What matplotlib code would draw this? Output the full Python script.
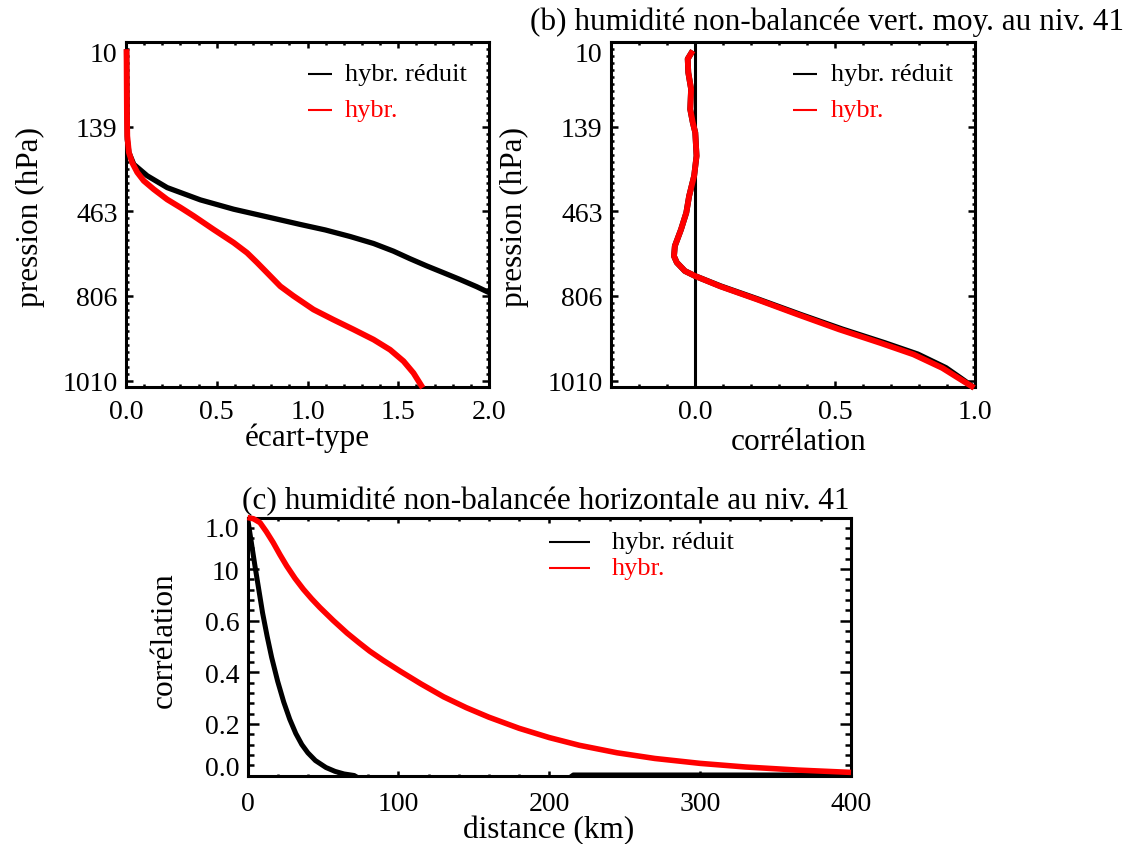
import matplotlib
matplotlib.use('Agg')
import matplotlib.pyplot as plt
from matplotlib.ticker import MultipleLocator

plt.rcParams['font.family'] = ['Liberation Serif', 'DejaVu Serif']
plt.rcParams['lines.solid_joinstyle'] = 'round'
plt.rcParams['lines.solid_capstyle'] = 'butt'

W, H = 1134, 845

# axe vertical : index de niveau, étiqueté en pression (hPa)
niv_ticks = [0, 20, 40, 60, 80]
niv_labels = ['10', '139', '463', '806', '1010']

# (a) écart-type
a_noir_x = [0.003, 0.007, 0.016, 0.043, 0.117, 0.227, 0.41, 0.593, 0.777, 0.96, 1.098, 1.235,
            1.364, 1.473, 1.565, 1.657, 1.749, 1.84, 1.932, 2.0]
a_noir_niv = [1.7, 23.0, 26.1, 28.9, 31.6, 34.4, 37.3, 39.5, 41.3, 43.1, 44.4, 45.95,
              47.6, 49.4, 51.2, 52.9, 54.5, 56.1, 57.8, 59.2]
a_rouge_x = [0.003, 0.005, 0.007, 0.016, 0.034, 0.062, 0.098, 0.153, 0.227, 0.30, 0.373, 0.483,
             0.593, 0.667, 0.722, 0.777, 0.85, 0.923, 1.033, 1.143, 1.253, 1.364, 1.455, 1.529,
             1.584, 1.635]
a_rouge_niv = [1.7, 16.6, 22.2, 26.1, 28.5, 30.8, 32.8, 34.8, 37.2, 39.1, 41.1, 44.3,
               47.4, 49.8, 52.1, 54.5, 57.7, 60.0, 63.2, 65.6, 67.9, 70.3, 72.7, 75.4,
               78.2, 81.7]

# (b) corrélation verticale
b_niv = [2.05, 4.0, 7.2, 11.1, 15.9, 19.0, 21.4, 26.9, 31.6, 36.4, 40.3, 44.3, 48.2, 50.6,
         52.1, 54.1, 55.3, 57.7, 60.8, 64.4, 67.9, 71.1, 73.8, 77.0, 79.4, 81.7]
b_rouge = [-0.008, -0.026, -0.024, -0.014, -0.017, -0.008, 0.001, 0.0055, -0.003, -0.021,
           -0.031, -0.05, -0.072, -0.075, -0.065, -0.036, 0.001, 0.089, 0.221, 0.368,
           0.515, 0.662, 0.780, 0.883, 0.941, 0.997]
b_noir = [-0.008, -0.026, -0.024, -0.014, -0.017, -0.008, 0.001, 0.0055, -0.003, -0.021,
          -0.031, -0.05, -0.072, -0.075, -0.065, -0.036, 0.001, 0.092, 0.226, 0.376,
          0.527, 0.677, 0.796, 0.896, 0.948, 0.997]

# (c) corrélation horizontale
c_rouge_km = [0, 4, 8.3, 12.5, 17, 21.5, 26, 31.5, 37, 42.5, 48, 56.8, 66, 74, 81, 90, 101,
              115, 130, 145, 160, 180, 200, 220, 245, 270, 300, 330, 365, 400]
c_rouge = [1.0, 0.995, 0.98, 0.945, 0.903, 0.856, 0.812, 0.764, 0.722, 0.685, 0.651, 0.601,
           0.552, 0.514, 0.482, 0.446, 0.405, 0.355, 0.305, 0.263, 0.226, 0.183, 0.147,
           0.117, 0.088, 0.066, 0.047, 0.033, 0.021, 0.012]
c_noir_km = [0, 5, 10, 13, 16, 20, 24, 28, 32, 36, 40, 45, 52, 58, 64, 70.7, 75, 212, 216, 400]
c_noir = [1.0, 0.81, 0.63, 0.54, 0.458, 0.365, 0.285, 0.218, 0.163, 0.12, 0.088, 0.058,
          0.031, 0.016, 0.006, 0.0, -0.015, -0.015, 0.002, 0.002]

c_yticks = [0.0, 0.2, 0.4, 0.6, 0.8, 1.0]
c_ylabels = ['0.0', '0.2', '0.4', '0.6', '10', '1.0']

noms = ['hybr. réduit', 'hybr.']
couleurs = ['black', 'red']


def px(x, y):
    return x / W, 1 - y / H


def style(ax, ylen, xlen, xpad):
    for s in ax.spines.values():
        s.set_linewidth(2.2)
        s.set_zorder(2)
    ax.tick_params(which='both', direction='in', top=True, right=True, width=1.8,
                   labelsize=20, color='black')
    ax.tick_params(axis='y', which='major', length=ylen, pad=6)
    ax.tick_params(axis='y', which='minor', length=ylen / 2)
    ax.tick_params(axis='x', which='major', length=xlen, pad=xpad)
    ax.tick_params(axis='x', which='minor', length=xlen / 2)


def legende(ax):
    for i, (nom, c) in enumerate(zip(noms, couleurs)):
        y = [0.906, 0.803][i]
        ax.plot([0.50, 0.567], [y, y], color=c, lw=1.5, transform=ax.transAxes)
        ax.text(0.604, y, nom, color=c, fontsize=19, va='center', ha='left',
                transform=ax.transAxes)


fig = plt.figure(figsize=(11.34, 8.45), dpi=100)

ax_a = fig.add_axes([126 / W, 1 - 388 / H, 363 / W, 345 / H])
ax_b = fig.add_axes([611 / W, 1 - 388 / H, 364 / W, 345 / H])
ax_c = fig.add_axes([247.5 / W, 1 - 776.5 / H, 603.5 / W, 258 / H])

# (a)
ax_a.plot(a_noir_x, a_noir_niv, color='black', lw=3.8, clip_on=False, zorder=3)
ax_a.plot(a_rouge_x, a_rouge_niv, color='red', lw=4.2, clip_on=False, zorder=4)
ax_a.set_xlim(0, 2.0)
ax_a.set_xticks([0.0, 0.5, 1.0, 1.5, 2.0])
ax_a.set_xticklabels(['0.0', '0.5', '1.0', '1.5', '2.0'])
ax_a.xaxis.set_minor_locator(MultipleLocator(0.1))

# (b)
ax_b.axvline(0.0, color='black', lw=2.2, zorder=3)
ax_b.plot(b_noir, b_niv, color='black', lw=4.2, clip_on=False, zorder=3)
ax_b.plot(b_rouge, b_niv, color='red', lw=4.2, clip_on=False, zorder=4)
ax_b.set_xlim(-0.3, 1.0)
ax_b.set_xticks([0.0, 0.5, 1.0])
ax_b.set_xticklabels(['0.0', '0.5', '1.0'])
ax_b.xaxis.set_minor_locator(MultipleLocator(0.1))

for ax in (ax_a, ax_b):
    ax.set_ylim(81.5, 0)
    ax.set_yticks(niv_ticks)
    ax.set_yticklabels(niv_labels)
    ax.yaxis.set_minor_locator(MultipleLocator(20 / 12))
    style(ax, 5, 4.3, 8.5)
    ax.get_yticklabels()[0].set_verticalalignment('top')
    legende(ax)

# (c)
ax_c.plot(c_noir_km, c_noir, color='black', lw=3.6, zorder=3)
ax_c.plot(c_rouge_km, c_rouge, color='red', lw=4.0, clip_on=False, zorder=4)
ax_c.set_xlim(0, 400)
ax_c.set_ylim(0, 1.0)
ax_c.set_xticks([0, 100, 200, 300, 400])
ax_c.set_xticklabels(['0', '100', '200', '300', '400'])
ax_c.xaxis.set_minor_locator(MultipleLocator(20))
ax_c.set_yticks(c_yticks)
ax_c.set_yticklabels(c_ylabels)
ax_c.yaxis.set_minor_locator(MultipleLocator(0.04))
style(ax_c, 8, 3.6, 11)
ax_c.get_yticklabels()[0].set_verticalalignment('baseline')
ax_c.get_yticklabels()[-1].set_verticalalignment('top')
legende(ax_c)

# étiquettes et titres
fig.text(*px(307.5, 438), 'écart-type', fontsize=22.5, ha='center', va='center')
fig.text(*px(30, 217), 'pression (hPa)', fontsize=22.5, ha='center', va='center', rotation=90)
fig.text(*px(799, 443), 'corrélation', fontsize=22.5, ha='center', va='center')
fig.text(*px(514, 217), 'pression (hPa)', fontsize=22.5, ha='center', va='center', rotation=90)
fig.text(*px(827.5, 22), '(b) humidité non-balancée vert. moy. au niv. 41', fontsize=22.5,
         ha='center', va='center')
fig.text(*px(546, 502), '(c) humidité non-balancée horizontale au niv. 41', fontsize=22.5,
         ha='center', va='center')
fig.text(*px(164, 640), 'corrélation', fontsize=22.5, ha='center', va='center', rotation=90)
fig.text(*px(549, 831), 'distance (km)', fontsize=22.5, ha='center', va='center')

fig.savefig('out.png', dpi=100)
